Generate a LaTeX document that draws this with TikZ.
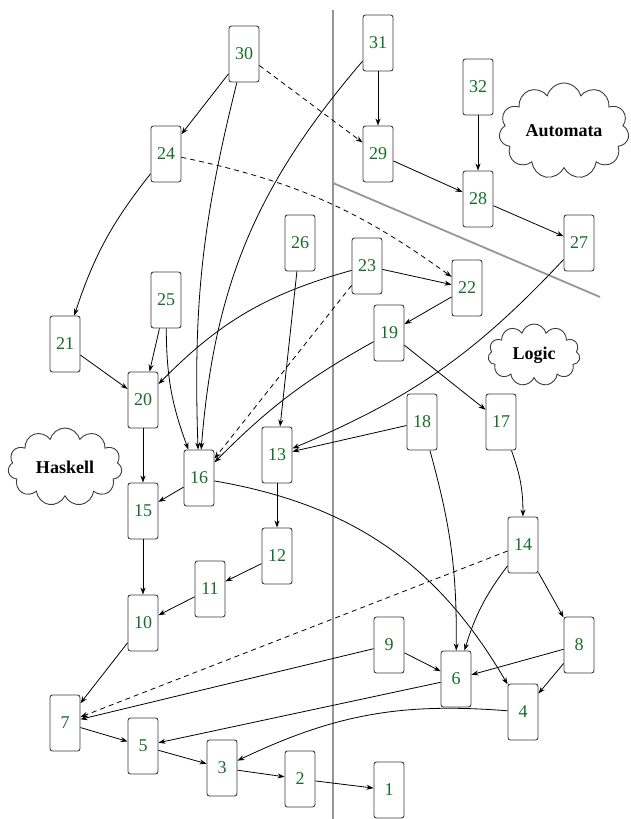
\documentclass[tikz,border=0pt]{standalone}
\usepackage{fontspec}
\setmainfont{Liberation Serif}
\usetikzlibrary{arrows.meta,shapes.symbols}
\definecolor{numgreen}{RGB}{20,110,40}
\definecolor{boxgray}{RGB}{60,60,60}
\definecolor{divgray}{RGB}{150,150,150}
\begin{document}
\begin{tikzpicture}[x=1pt,y=-1pt,
    box/.style={draw=boxgray,line width=0.9pt,rounded corners=2.5pt,minimum width=30pt,minimum height=56pt,
                inner sep=0pt,text=numgreen,font=\fontsize{18}{20}\selectfont},
    area/.style={draw=boxgray,line width=0.9pt,cloud,cloud puffs=11,inner sep=0pt,
                 font=\fontsize{18}{20}\selectfont\bfseries},
    divider/.style={draw=divgray,line width=1.8pt},
    every edge/.style={draw,-{Stealth[length=7pt,width=5pt]},line width=0.8pt},
    dep/.style={dashed,dash pattern=on 5pt off 4pt}]
        \useasboundingbox (0,0) rectangle (631,819);

        % areas
        \draw[divider] (333,10) -- (333,819);
        \draw[divider] (333,183) -- (600,297);
        \node[area,minimum width=130pt,minimum height=96pt,aspect=1.5] (automata) at (564,131) {Automata};
        \node[area,minimum width=92pt,minimum height=62pt,aspect=1.6] (logic) at (534,355) {Logic};
        \node[area,minimum width=114pt,minimum height=78pt,aspect=1.6] (haskell) at (65,467) {Haskell};

        \node[box] (n30) at (244,54) {30};
        \node[box] (n31) at (378,43) {31};
        \node[box] (n32) at (478,87) {32};
        \node[box] (n24) at (166,154) {24};
        \node[box] (n29) at (378,154) {29};
        \node[box] (n28) at (478,199) {28};
        \node[box] (n26) at (300,243) {26};
        \node[box] (n27) at (579,243) {27};
        \node[box] (n23) at (367,266) {23};
        \node[box] (n22) at (467,288) {22};
        \node[box] (n25) at (166,300) {25};
        \node[box] (n19) at (389,333) {19};
        \node[box] (n21) at (65,344) {21};
        \node[box] (n20) at (143,400) {20};
        \node[box] (n18) at (422,422) {18};
        \node[box] (n17) at (501,422) {17};
        \node[box] (n13) at (277,455) {13};
        \node[box] (n16) at (199,478) {16};
        \node[box] (n15) at (143,511) {15};
        \node[box] (n14) at (523,545) {14};
        \node[box] (n12) at (277,556) {12};
        \node[box] (n11) at (210,589) {11};
        \node[box] (n10) at (143,623) {10};
        \node[box] (n9)  at (389,645) {9};
        \node[box] (n8)  at (579,645) {8};
        \node[box] (n6)  at (456,679) {6};
        \node[box] (n4)  at (523,712) {4};
        \node[box] (n7)  at (65,723) {7};
        \node[box] (n5)  at (143,746) {5};
        \node[box] (n3)  at (222,768) {3};
        \node[box] (n2)  at (300,779) {2};
        \node[box] (n1)  at (389,790) {1};

        \path (n30) edge (n24);
        \path (n30) edge[bend right=8] (n16);
        \path (n30) edge[dep] (n29);
        \path (n31) edge (n29);
        \path (n31) edge[bend right=18] (n16);
        \path (n32) edge (n28);
        \path (n29) edge (n28);
        \path (n28) edge (n27);
        \path (n24) edge[bend right=10] (n21);
        \path (n24) edge[dep,bend left=12] (n22);
        \path (n26) edge (n13);
        \path (n23) edge (n22);
        \path (n23) edge[bend right=15] (n20);
        \path (n23) edge[dep] (n16);
        \path (n22) edge (n19);
        \path (n25) edge (n20);
        \path (n25) edge[bend right=10] (n16);
        \path (n21) edge (n20);
        \path (n20) edge (n15);
        \path (n27) edge[bend left=12] (n13);
        \path (n19) edge[bend right=8] (n16);
        \path (n19) edge (n17);
        \path (n18) edge (n13);
        \path (n18) edge[bend left=8] (n6);
        \path (n17) edge[bend left=10] (n14);
        \path (n16) edge (n15);
        \path (n16) edge[bend left=25] (n4);
        \path (n13) edge (n12);
        \path (n12) edge (n11);
        \path (n11) edge (n10);
        \path (n15) edge (n10);
        \path (n10) edge (n7);
        \path (n14) edge[dep] (n7);
        \path (n14) edge[bend right=10] (n6);
        \path (n14) edge (n8);
        \path (n9) edge (n7);
        \path (n9) edge (n6);
        \path (n8) edge (n6);
        \path (n8) edge (n4);
        \path (n6) edge (n5);
        \path (n4) edge[bend right=15] (n3);
        \path (n7) edge (n5);
        \path (n5) edge (n3);
        \path (n3) edge (n2);
        \path (n2) edge (n1);
    \end{tikzpicture}
\end{document}
